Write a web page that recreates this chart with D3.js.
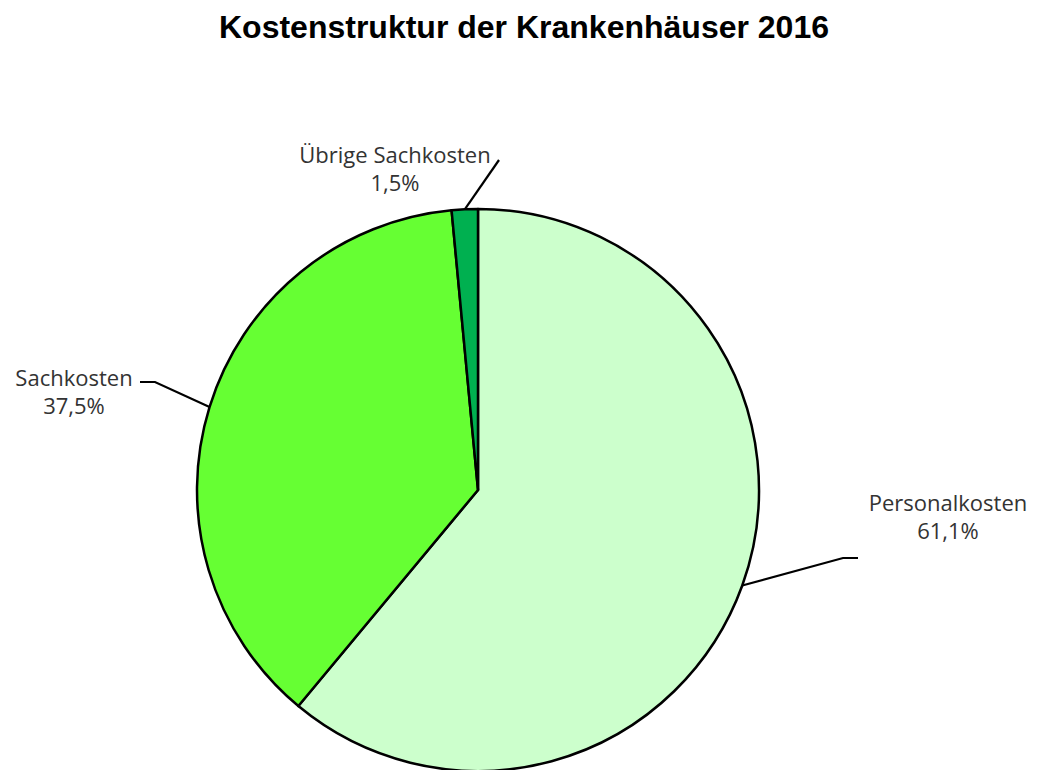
<!DOCTYPE html>
<html>
<head>
<meta charset="utf-8">
<script src="https://cdn.jsdelivr.net/npm/d3@7"></script>
<style>
body { margin: 0; background: #fff; }
</style>
</head>
<body>
<script>
const w = 1037;
const h = 770;

const categories = ['Personalkosten', 'Sachkosten', 'Übrige Sachkosten'];
const values = [61.1, 37.5, 1.5];
const valueLabels = ['61,1%', '37,5%', '1,5%'];
const colors = ['#ccffcc', '#66ff33', '#00b050'];

// where the leader lines bend and where the text sits
const elbows = [[843, 558, 858], [155, 382, 140], [499, 160, 499]];
const textPos = [[948, 511], [74, 386], [395, 163]];

const cx = 478, cy = 490, r = 281;

const svg = d3.select('body').append('svg').attr('width', w).attr('height', h);

svg.append('text')
  .attr('x', 524).attr('y', 38)
  .attr('text-anchor', 'middle')
  .style('font-family', 'Arial, "Liberation Sans", sans-serif')
  .style('font-weight', 'bold')
  .style('font-size', '32px')
  .text('Kostenstruktur der Krankenhäuser 2016');

const data = categories.map((c, i) => ({ name: c, value: values[i], label: valueLabels[i], color: colors[i], i: i }));

const pie = d3.pie().sort(null).value(d => d.value);
const arc = d3.arc().innerRadius(0).outerRadius(r);
const arcs = pie(data);

const g = svg.append('g').attr('transform', 'translate(' + cx + ',' + cy + ')');

g.selectAll('path').data(arcs).enter()
  .append('path')
  .attr('d', arc)
  .attr('fill', d => d.data.color)
  .attr('stroke', '#000')
  .attr('stroke-width', 2.5)
  .attr('stroke-linejoin', 'round');

// leader lines
svg.selectAll('.leader').data(arcs).enter()
  .append('polyline')
  .attr('class', 'leader')
  .attr('fill', 'none')
  .attr('stroke', '#000')
  .attr('stroke-width', 2.2)
  .attr('points', d => {
    const a = (d.startAngle + d.endAngle) / 2;
    const x0 = cx + r * Math.sin(a);
    const y0 = cy - r * Math.cos(a);
    const e = elbows[d.data.i];
    return [[x0, y0], [e[0], e[1]], [e[2], e[1]]].map(p => p.join(',')).join(' ');
  });

const lbl = svg.selectAll('.lbl').data(data).enter()
  .append('text')
  .attr('class', 'lbl')
  .attr('text-anchor', 'middle')
  .style('font-family', '"Open Sans", sans-serif')
  .style('font-size', '22px')
  .attr('fill', '#333');

lbl.append('tspan')
  .attr('x', d => textPos[d.i][0])
  .attr('y', d => textPos[d.i][1])
  .text(d => d.name);
lbl.append('tspan')
  .attr('x', d => textPos[d.i][0])
  .attr('y', d => textPos[d.i][1] + 28)
  .text(d => d.label);
</script>
</body>
</html>
